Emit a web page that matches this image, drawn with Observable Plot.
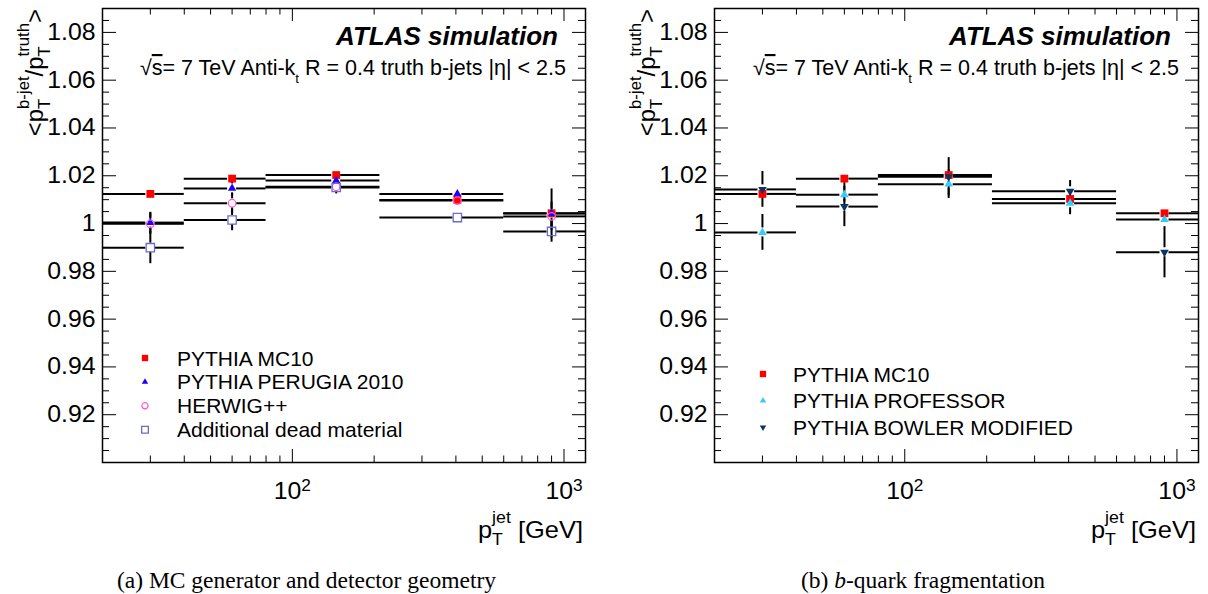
<!DOCTYPE html>
<html><head><meta charset="utf-8">
<script src="https://cdn.jsdelivr.net/npm/d3@7"></script>
<script src="https://cdn.jsdelivr.net/npm/@observablehq/plot@0.6"></script>
<style>
html,body{margin:0;padding:0;background:#fff;}
#root{position:relative;width:1208px;height:594px;overflow:hidden;background:#fff;}
.panel{position:absolute;top:0;}
.cap{position:absolute;top:568px;font-family:"Liberation Serif","Times New Roman",serif;font-size:23.5px;line-height:24px;white-space:nowrap;text-align:center;color:#000;}
</style></head><body>
<div id="root">
  <div class="panel" id="pa" style="left:0"></div>
  <div class="panel" id="pb" style="left:604px"></div>
  <div class="cap" style="left:0;width:613px">(a) MC generator and detector geometry</div>
  <div class="cap" style="left:604px;width:638px">(b) <i>b</i>-quark fragmentation</div>
</div>
<script>
// ---------------- data ----------------
const binLow = [20, 40, 80, 210, 600];
const binHigh = [40, 80, 210, 600, 1200];
const binCenter = [30, 60, 145, 405, 900];

// panel (a): MC generator and detector geometry
const mc10A = [1.0124, 1.0188, 1.0203, 1.0099, 1.0043];
const mc10AErr = [0.0010, 0.0010, 0.0008, 0.0010, 0.0015];
const perugiaA = [1.0004, 1.0147, 1.0180, 1.0124, 1.0042];
const perugiaAErr = [0.0043, 0.0030, 0.0012, 0.0012, 0.0103];
const herwigA = [0.9999, 1.0085, 1.0154, 1.0096, 1.0030];
const herwigAErr = [0.0045, 0.0042, 0.0015, 0.0012, 0.0060];
const deadA = [0.9899, 1.0015, 1.0151, 1.0025, 0.9967];
const deadAErr = [0.0067, 0.0045, 0.0027, 0.0012, 0.0045];

// panel (b): b-quark fragmentation
const mc10B = [1.0124, 1.0188, 1.0203, 1.0103, 1.0043];
const mc10BErr = [0.0010, 0.0010, 0.0008, 0.0010, 0.0015];
const professorB = [0.9963, 1.0121, 1.0165, 1.0085, 1.0017];
const professorBErr = [0.0075, 0.0050, 0.0060, 0.0048, 0.0015];
const bowlerB = [1.0143, 1.0071, 1.0196, 1.0135, 0.9880];
const bowlerBErr = [0.0075, 0.0084, 0.0080, 0.0045, 0.0107];

// axis ticks
const yMajor = [0.92, 0.94, 0.96, 0.98, 1.00, 1.02, 1.04, 1.06, 1.08];
const yMinor = d3.range(181, 218).map(k => +(k * 0.005).toFixed(3)).filter(v => !yMajor.some(m => Math.abs(m - v) < 1e-6));
const xMajor = [100, 1000];
const xMinor = [30, 40, 50, 60, 70, 80, 90, 200, 300, 400, 500, 600, 700, 800, 900];

// ---------------- drawing ----------------
const FONT = "'Liberation Sans', Arial, Helvetica, sans-serif";
const W = 604, H = 558, MT = 8, MB = 96;
const S = 1.08; // horizontal stretch of ROOT axis fonts
const AXF = 23; // axis label font size

function rich(parent, parts, o) {
  const size = o.size;
  const t = parent.append("text")
    .attr("transform", `translate(${o.x},${o.y})${o.rotate ? ` rotate(${o.rotate})` : ""}${o.sx ? ` scale(${o.sx},1)` : ""}`)
    .attr("text-anchor", o.anchor || "start")
    .attr("font-family", FONT).attr("font-size", size)
    .attr("font-weight", o.weight || "normal").attr("font-style", o.style || "normal")
    .attr("fill", "#000");
  let cur = 0, lastW = 0;
  for (const p of parts) {
    const fs = p.k ? size * (o.ss || 0.72) : size;
    const off = p.k === "sub" ? size * (o.subOff || 0.32) : p.k === "sup" ? -size * (o.supOff || 0.5) : 0;
    const ts = t.append("tspan").attr("font-size", fs).attr("dy", off - cur).text(p.t);
    if (p.stack) ts.attr("dx", -lastW);
    if (p.deco) ts.style("text-decoration", p.deco);
    cur = off;
    lastW = ts.node().getComputedTextLength();
  }
  return t;
}

function stretch(el, s) {
  const xa = el.getAttribute("x");
  let pre = "";
  if (xa !== null && isFinite(+xa) && +xa !== 0) { pre = ` translate(${+xa},0)`; el.removeAttribute("x"); }
  const tr = el.getAttribute("transform") || "";
  el.setAttribute("transform", `${tr}${pre} scale(${s},1)`);
}

function makePanel(host, cfg) {
  const ML = cfg.marginLeft, MR = cfg.marginRight;
  const fw = W - ML - MR, fh = H - MT - MB;
  const rows = cfg.series.flatMap(s => s.values.map((v, i) => ({
    name: s.name, x: binCenter[i], lo: binLow[i], hi: binHigh[i], y: v, e: s.errors[i]
  })));
  const gap = 4.5;
  const errRows = rows.filter(r => r.e > 0.0019);
  const line = {stroke: "#000", strokeWidth: 2};
  const marks = [
    Plot.ruleY(rows, {y: "y", x1: "lo", x2: "x", insetRight: gap, ...line}),
    Plot.ruleY(rows, {y: "y", x1: "x", x2: "hi", insetLeft: gap, ...line}),
    Plot.ruleX(errRows, {x: "x", y1: d => d.y + d.e, y2: "y", insetBottom: gap, ...line}),
    Plot.ruleX(errRows, {x: "x", y1: "y", y2: d => d.y - d.e, insetTop: gap, ...line}),
    ...cfg.series.map(s => Plot.dot(rows.filter(r => r.name === s.name), {
      x: "x", y: "y", symbol: s.symbol, r: s.r, fill: s.fill, stroke: s.stroke,
      strokeWidth: s.sw || 1, rotate: s.rotate || 0
    })),
    // ticks (inward, all four sides)
    Plot.tickY(yMajor, {y: d => d, insetRight: fw - 14, stroke: "#000", strokeWidth: 1}),
    Plot.tickY(yMinor, {y: d => d, insetRight: fw - 7, stroke: "#000", strokeWidth: 1}),
    Plot.tickY(yMajor, {y: d => d, insetLeft: fw - 13, stroke: "#000", strokeWidth: 1}),
    Plot.tickY(yMinor, {y: d => d, insetLeft: fw - 7, stroke: "#000", strokeWidth: 1}),
    Plot.tickX(xMajor, {x: d => d, insetTop: fh - 13, stroke: "#000", strokeWidth: 1}),
    Plot.tickX(xMinor, {x: d => d, insetTop: fh - 6.5, stroke: "#000", strokeWidth: 1}),
    Plot.tickX(xMajor, {x: d => d, insetBottom: fh - 13, stroke: "#000", strokeWidth: 1}),
    Plot.tickX(xMinor, {x: d => d, insetBottom: fh - 6.5, stroke: "#000", strokeWidth: 1}),
    Plot.frame({stroke: "#000", strokeWidth: 1.5}),
    Plot.axisY(yMajor, {tickSize: 0, tickPadding: 7, label: null, fontSize: AXF,
      tickFormat: d => Math.abs(d - 1) < 1e-9 ? "1" : d.toFixed(2)}),
    Plot.axisX(xMajor, {tickSize: 0, tickPadding: 20, label: null, fontSize: AXF, tickFormat: () => "10"})
  ];
  const plot = Plot.plot({
    width: W, height: H, marginLeft: ML, marginRight: MR, marginTop: MT, marginBottom: MB,
    x: {type: "log", domain: [20, 1200]},
    y: {domain: [0.90, 1.09]},
    style: {fontFamily: FONT, fontSize: "21px", color: "#000", background: "#fff", overflow: "visible"},
    marks
  });
  host.appendChild(plot);
  const svg = d3.select(plot);

  // axis tick labels: ROOT-like wide digits, superscript exponents
  svg.selectAll('g[aria-label="y-axis tick label"] text').each(function () { stretch(this, S); });
  svg.selectAll('g[aria-label="x-axis tick label"] text').each(function (_, i) {
    const exp = Math.round(Math.log10(xMajor[i]));
    d3.select(this).append("tspan").attr("font-size", 16).attr("dy", "-0.5em").text(exp);
    stretch(this, S);
  });

  const fl = ML, fr = W - MR;
  const ann = svg.append("g").attr("text-anchor", "start");
  // y-axis title
  rich(ann, [
    {t: "<p"}, {t: "T", k: "sub"}, {t: "b-jet", k: "sup", stack: true},
    {t: "/p"}, {t: "T", k: "sub"}, {t: "truth", k: "sup", stack: true}, {t: ">"}
  ], {x: fl - 59, y: 9, rotate: -90, anchor: "end", size: 23, sx: 1.04, ss: 0.7, subOff: 0.3, supOff: 0.62});
  // x-axis title
  rich(ann, [{t: "p"}, {t: "T", k: "sub"}, {t: "jet", k: "sup", stack: true}, {t: " [GeV]"}],
    {x: fr - 2, y: 538, anchor: "end", size: 24, sx: 1.06, ss: 0.7, subOff: 0.3, supOff: 0.62});
  // ATLAS label
  ann.append("text").attr("x", fr - 27).attr("y", 45).attr("text-anchor", "end")
    .attr("font-family", FONT).attr("font-size", 26).attr("font-weight", "bold").attr("font-style", "italic")
    .text("ATLAS simulation");
  rich(ann, [
    {t: "√"}, {t: "s", deco: "overline"}, {t: "= 7 TeV Anti-k"}, {t: "t", k: "sub"},
    {t: " R = 0.4 truth b-jets |η| < 2.5"}
  ], {x: fr - 19, y: 75, anchor: "end", size: 21.5, ss: 0.62, subOff: 0.35});

  // legend
  const lg = ann.append("g");
  cfg.series.forEach((s, i) => {
    const cy = cfg.legend.y0 + i * cfg.legend.dy;
    const sym = d3.symbol().type(s.legendType).size(s.legendSize)();
    lg.append("path").attr("d", sym)
      .attr("transform", `translate(${fl + cfg.legend.mx},${cy})${s.rotate ? ` rotate(${s.rotate})` : ""}`)
      .attr("fill", s.fill).attr("stroke", s.stroke).attr("stroke-width", s.sw || 1);
    lg.append("text").attr("x", fl + cfg.legend.tx).attr("y", cy).attr("dy", "0.36em")
      .attr("text-anchor", "start")
      .attr("font-family", FONT).attr("font-size", 21).text(s.label);
  });
}

const seriesA = [
  {name: "mc10", label: "PYTHIA MC10", values: mc10A, errors: mc10AErr, symbol: "square", r: 4.4, fill: "#ff0000", stroke: "none",
   legendType: d3.symbolSquare, legendSize: 40},
  {name: "perugia", label: "PYTHIA PERUGIA 2010", values: perugiaA, errors: perugiaAErr, symbol: "triangle", r: 3.1, fill: "#1a00ff", stroke: "none",
   legendType: d3.symbolTriangle, legendSize: 18},
  {name: "herwig", label: "HERWIG++", values: herwigA, errors: herwigAErr, symbol: "circle", r: 3.8, fill: "none", stroke: "#ff55cc", sw: 1.2,
   legendType: d3.symbolCircle, legendSize: 30},
  {name: "dead", label: "Additional dead material", values: deadA, errors: deadAErr, symbol: "square", r: 4.7, fill: "none", stroke: "#6a6ad0", sw: 1.3,
   legendType: d3.symbolSquare, legendSize: 45}
];
const seriesB = [
  {name: "mc10", label: "PYTHIA MC10", values: mc10B, errors: mc10BErr, symbol: "square", r: 4.4, fill: "#ff0000", stroke: "none",
   legendType: d3.symbolSquare, legendSize: 40},
  {name: "professor", label: "PYTHIA PROFESSOR", values: professorB, errors: professorBErr, symbol: "triangle", r: 3.2, fill: "#33ccff", stroke: "none",
   legendType: d3.symbolTriangle, legendSize: 18},
  {name: "bowler", label: "PYTHIA BOWLER MODIFIED", values: bowlerB, errors: bowlerBErr, symbol: "triangle", r: 3.2, fill: "#0b3567", stroke: "none", rotate: 180,
   legendType: d3.symbolTriangle, legendSize: 18}
];

makePanel(document.getElementById("pa"), {
  marginLeft: 102, marginRight: 19, series: seriesA,
  legend: {y0: 358, dy: 23.9, mx: 43, tx: 75}
});
makePanel(document.getElementById("pb"), {
  marginLeft: 110, marginRight: 10, series: seriesB,
  legend: {y0: 374, dy: 26.7, mx: 49, tx: 79}
});
</script>
</body></html>
